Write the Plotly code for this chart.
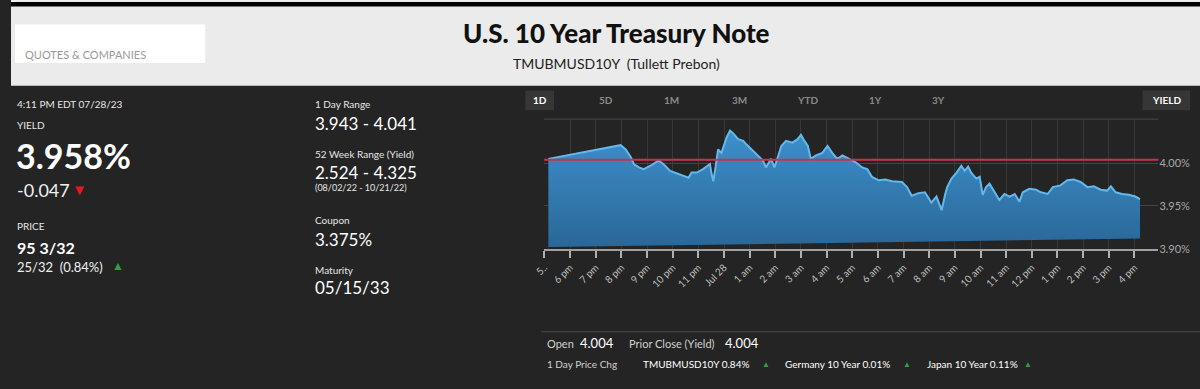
import plotly.graph_objects as go

# ---------------- data ----------------
times = [
    "2023-07-27 17:09", "2023-07-27 19:58", "2023-07-27 20:10", "2023-07-27 20:22", "2023-07-27 20:29",
    "2023-07-27 20:41", "2023-07-27 20:52", "2023-07-27 21:08", "2023-07-27 21:27", "2023-07-27 21:38",
    "2023-07-27 21:54", "2023-07-27 22:10", "2023-07-27 22:25", "2023-07-27 22:37", "2023-07-27 22:44",
    "2023-07-27 22:56", "2023-07-27 23:11", "2023-07-27 23:27", "2023-07-27 23:31", "2023-07-27 23:35",
    "2023-07-27 23:40", "2023-07-27 23:46", "2023-07-27 23:54", "2023-07-28 00:06", "2023-07-28 00:14",
    "2023-07-28 00:21", "2023-07-28 00:33", "2023-07-28 00:45", "2023-07-28 00:52", "2023-07-28 01:08",
    "2023-07-28 01:19", "2023-07-28 01:31", "2023-07-28 01:38", "2023-07-28 01:50", "2023-07-28 01:58",
    "2023-07-28 02:05", "2023-07-28 02:14", "2023-07-28 02:25", "2023-07-28 02:40", "2023-07-28 02:52",
    "2023-07-28 03:00", "2023-07-28 03:08", "2023-07-28 03:16", "2023-07-28 03:23", "2023-07-28 03:35",
    "2023-07-28 03:50", "2023-07-28 04:02", "2023-07-28 04:13", "2023-07-28 04:25", "2023-07-28 04:37",
    "2023-07-28 04:52", "2023-07-28 05:08", "2023-07-28 05:23", "2023-07-28 05:35", "2023-07-28 05:46",
    "2023-07-28 06:02", "2023-07-28 06:17", "2023-07-28 06:33", "2023-07-28 06:56", "2023-07-28 07:08",
    "2023-07-28 07:19", "2023-07-28 07:35", "2023-07-28 07:50", "2023-07-28 08:05", "2023-07-28 08:17",
    "2023-07-28 08:29", "2023-07-28 08:37", "2023-07-28 08:42", "2023-07-28 08:52", "2023-07-28 09:04",
    "2023-07-28 09:15", "2023-07-28 09:23", "2023-07-28 09:31", "2023-07-28 09:38", "2023-07-28 09:50",
    "2023-07-28 09:58", "2023-07-28 10:05", "2023-07-28 10:13", "2023-07-28 10:21", "2023-07-28 10:33",
    "2023-07-28 10:44", "2023-07-28 10:56", "2023-07-28 11:08", "2023-07-28 11:20", "2023-07-28 11:31",
    "2023-07-28 11:39", "2023-07-28 11:54", "2023-07-28 12:10", "2023-07-28 12:21", "2023-07-28 12:37",
    "2023-07-28 12:49", "2023-07-28 13:07", "2023-07-28 13:23", "2023-07-28 13:38", "2023-07-28 13:54",
    "2023-07-28 14:10", "2023-07-28 14:25", "2023-07-28 14:41", "2023-07-28 14:56", "2023-07-28 15:05",
    "2023-07-28 15:16", "2023-07-28 15:31", "2023-07-28 15:47", "2023-07-28 16:02", "2023-07-28 16:13",
]
yields = [
    4.005, 4.021, 4.016, 4.007, 3.999,
    3.995, 3.993, 3.997, 4.003, 3.999,
    3.991, 3.988, 3.986, 3.983, 3.989,
    3.989, 3.993, 3.999, 3.987, 3.979,
    3.995, 4.016, 4.012, 4.030, 4.038,
    4.035, 4.028, 4.026, 4.022, 4.014,
    4.009, 4.003, 3.995, 4.005, 3.995,
    4.005, 4.020, 4.026, 4.024, 4.028,
    4.033, 4.026, 4.020, 4.005, 4.009,
    4.012, 4.020, 4.012, 4.005, 4.009,
    4.005, 4.001, 3.995, 3.993, 3.984,
    3.980, 3.981, 3.979, 3.978, 3.972,
    3.962, 3.965, 3.966, 3.954, 3.961,
    3.945, 3.963, 3.972, 3.982, 3.989,
    3.997, 3.991, 3.996, 3.989, 3.982,
    3.984, 3.963, 3.972, 3.976, 3.966,
    3.957, 3.964, 3.961, 3.964, 3.955,
    3.966, 3.970, 3.969, 3.966, 3.964,
    3.972, 3.974, 3.980, 3.981, 3.978,
    3.972, 3.973, 3.969, 3.968, 3.973,
    3.966, 3.964, 3.963, 3.961, 3.958,
]
# sloped lower edge of the filled area
base_times = ["2023-07-27 17:09", "2023-07-28 16:13"]
base_values = [3.902, 3.912]
prior_close = 4.004

tick_times = [
    "2023-07-27 17:00", "2023-07-27 18:00", "2023-07-27 19:00", "2023-07-27 20:00", "2023-07-27 21:00",
    "2023-07-27 22:00", "2023-07-27 23:00", "2023-07-28 00:00", "2023-07-28 01:00", "2023-07-28 02:00",
    "2023-07-28 03:00", "2023-07-28 04:00", "2023-07-28 05:00", "2023-07-28 06:00", "2023-07-28 07:00",
    "2023-07-28 08:00", "2023-07-28 09:00", "2023-07-28 10:00", "2023-07-28 11:00", "2023-07-28 12:00",
    "2023-07-28 13:00", "2023-07-28 14:00", "2023-07-28 15:00", "2023-07-28 16:00",
]
tick_labels = [
    "5..", "6 pm", "7 pm", "8 pm", "9 pm", "10 pm", "11 pm", "Jul 28", "1 am", "2 am", "3 am", "4 am",
    "5 am", "6 am", "7 am", "8 am", "9 am", "10 am", "11 am", "12 pm", "1 pm", "2 pm", "3 pm", "4 pm",
]
y_ticks = [3.90, 3.95, 4.00]
y_tick_labels = ["3.90%", "3.95%", "4.00%"]
range_buttons = ["1D", "5D", "1M", "3M", "YTD", "1Y", "3Y"]

# ---------------- figure ----------------
W, H = 1200, 389
FONT = "Lato"


def px(x):
    return x / W


def py(y):
    return 1 - y / H


fig = go.Figure()
fig.add_trace(go.Scatter(x=base_times, y=base_values, mode="lines",
                         line=dict(width=0, color="rgba(0,0,0,0)"),
                         hoverinfo="skip", showlegend=False))
fig.add_trace(go.Scatter(
    x=times, y=yields, mode="lines", fill="tonexty",
    line=dict(color="#63b9ec", width=2),
    fillgradient=dict(type="vertical",
                      colorscale=[[0, "#2a6798"], [1, "#3d90cc"]]),
    showlegend=False,
))

shapes = [
    # header band and top bar
    dict(type="rect", xref="paper", yref="paper", x0=0, x1=1, y0=py(87), y1=1,
         fillcolor="#ebebeb", line=dict(width=0), layer="below"),
    dict(type="rect", xref="paper", yref="paper", x0=0, x1=1, y0=py(6.5), y1=py(2),
         fillcolor="#000000", line=dict(width=0), layer="below"),
    dict(type="rect", xref="paper", yref="paper", x0=px(4), x1=px(196), y0=py(64), y1=py(25),
         fillcolor="#ffffff", line=dict(width=0), layer="below"),
    # range button backgrounds
    dict(type="rect", xref="paper", yref="paper", x0=px(519), x1=px(548), y0=py(112), y1=py(92),
         fillcolor="#363636", line=dict(width=0), layer="below"),
    dict(type="rect", xref="paper", yref="paper", x0=px(1142), x1=px(1190), y0=py(112), y1=py(92),
         fillcolor="#363636", line=dict(width=0), layer="below"),
    # top frame of plot
    dict(type="line", xref="x domain", yref="y domain", x0=0, x1=1, y0=1, y1=1,
         line=dict(color="#4a4a4a", width=1), layer="below"),
    # prior close line
    dict(type="line", xref="x domain", yref="y", x0=0, x1=1, y0=prior_close, y1=prior_close,
         line=dict(color="#c5344f", width=2), layer="above"),
    # separator above bottom stats
    dict(type="line", xref="paper", yref="paper", x0=px(535), x1=1, y0=py(337), y1=py(337),
         line=dict(color="#4a4a4a", width=1)),
]

ann = []


def text(t, x, y, size, color="#ffffff", weight="normal", xanchor="left"):
    ann.append(dict(text=t, x=px(x), y=py(y), xref="paper", yref="paper",
                    xanchor=xanchor, yanchor="middle", showarrow=False,
                    font=dict(family=FONT, size=size, color=color, weight=weight)))


# header
text("QUOTES &amp; COMPANIES", 12, 55, 11, "#9a9a9a")
text("U.S. 10 Year Treasury Note", 611, 34, 26, "#111111", 900, "center")
text("TMUBMUSD10Y  (Tullett Prebon)", 611, 65, 14, "#222222", "normal", "center")

# left column
text("4:11 PM EDT 07/28/23", 4, 106, 10, "#e6e6e6")
text("YIELD", 4, 127, 10, "#e6e6e6")
text("3.958%", 3, 158, 34, "#ffffff", "bold")
text("-0.047", 4, 193, 18, "#f0f0f0")
text("▼", 60, 192, 15, "#e8171d")
text("PRICE", 4, 230, 10, "#e6e6e6")
text("95 3/32", 4, 251, 16, "#ffffff", "bold")
text("25/32  (0.84%)", 4, 271, 13, "#f0f0f0")
text("▲", 100, 270, 12, "#2ea043")

# middle column
text("1 Day Range", 305, 106, 10, "#e6e6e6")
text("3.943 - 4.041", 305, 125, 17, "#ffffff")
text("52 Week Range (Yield)", 305, 156, 10, "#e6e6e6")
text("2.524 - 4.325", 305, 175, 17, "#ffffff")
text("(08/02/22 - 10/21/22)", 305, 190, 9, "#e6e6e6")
text("Coupon", 305, 223, 10, "#e6e6e6")
text("3.375%", 305, 243, 17, "#ffffff")
text("Maturity", 305, 274, 10, "#e6e6e6")
text("05/15/33", 305, 292, 17, "#ffffff")

# range selector
btn_x = [534, 601, 667, 735, 804, 872, 936]
for i, (b, bx) in enumerate(zip(range_buttons, btn_x)):
    text(b, bx, 102, 10, "#ffffff" if i == 0 else "#8a8a8a", "bold", "center")
text("YIELD", 1166, 102, 10, "#ffffff", "bold", "center")

# bottom stats
text("Open", 539, 349, 11, "#d0d0d0")
text("4.004", 572, 348, 13, "#ffffff")
text("Prior Close (Yield)", 622, 349, 11, "#d0d0d0")
text("4.004", 719, 348, 13, "#ffffff")
text("1 Day Price Chg", 539, 370, 10, "#d0d0d0")
text("TMUBMUSD10Y 0.84%", 636, 370, 10, "#ffffff")
text("▲", 756, 370, 8, "#2ea043")
text("Germany 10 Year 0.01%", 779, 370, 10, "#ffffff")
text("▲", 898, 370, 8, "#2ea043")
text("Japan 10 Year 0.11%", 922, 370, 10, "#ffffff")
text("▲", 1020, 370, 8, "#2ea043")

fig.update_layout(
    width=W, height=H,
    margin=dict(l=0, r=0, t=0, b=0),
    paper_bgcolor="#242424", plot_bgcolor="#242424",
    font=dict(family=FONT),
    shapes=shapes, annotations=ann,
    showlegend=False,
    xaxis=dict(
        domain=[px(538), px(1158)], type="date",
        range=["2023-07-27 16:59", "2023-07-28 16:56"],
        tickvals=tick_times, ticktext=tick_labels, tickangle=-45,
        tickfont=dict(family=FONT, size=10, color="#bdbdbd"),
        ticks="outside", ticklen=7, tickcolor="#b0b0b0", tickwidth=1.5,
        showgrid=True, gridcolor="#383838", gridwidth=1,
        showline=True, linecolor="#a0a0a0", linewidth=2,
        zeroline=False, fixedrange=True,
    ),
    yaxis=dict(
        domain=[py(252.7), py(121)],
        range=[3.90, 4.0514], side="right",
        tickvals=y_ticks, ticktext=y_tick_labels,
        tickfont=dict(family=FONT, size=11, color="#a8a8a8"),
        showgrid=True, gridcolor="#444444", gridwidth=1,
        zeroline=False, showline=False, ticks="", fixedrange=True,
    ),
)

fig.write_html(
    "out.html",
    config={"displayModeBar": False},
    post_script="document.body.style.margin='0';document.body.style.overflow='hidden';",
)
